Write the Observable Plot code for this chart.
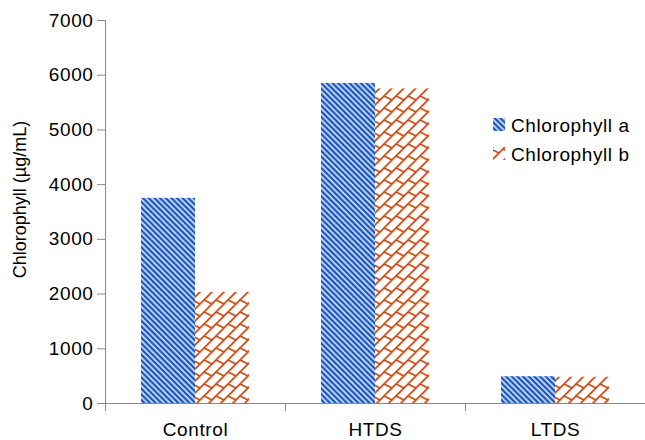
<!DOCTYPE html>
<html><head><meta charset="utf-8">
<script src="https://cdn.jsdelivr.net/npm/d3@7"></script>
<script src="https://cdn.jsdelivr.net/npm/@observablehq/plot@0.6"></script>
<style>
body{margin:0;background:#fff}
#chart{position:relative;width:645px;height:440px}
</style>
</head><body><div id="chart"></div>
<script>
const categories = ["Control", "HTDS", "LTDS"];
const seriesNames = ["Chlorophyll a", "Chlorophyll b"];
const chlA = [3750, 5850, 490];
const chlB = [2030, 5750, 480];
const yTicks = [0, 1000, 2000, 3000, 4000, 5000, 6000, 7000];
const yLabel = "Chlorophyll (µg/mL)";

const data = categories.flatMap((c, i) => [
  {category: c, series: seriesNames[0], value: chlA[i]},
  {category: c, series: seriesNames[1], value: chlB[i]}
]);

const FONT = "'Liberation Sans', Arial, Helvetica, sans-serif";

const plot = Plot.plot({
  width: 645, height: 440,
  marginTop: 20, marginBottom: 37, marginLeft: 105, marginRight: 0,
  style: {fontFamily: FONT, fontSize: "19px", color: "#000", background: "#fff", overflow: "visible"},
  fx: {domain: categories, paddingInner: 0, paddingOuter: 0, label: null},
  x: {domain: seriesNames, paddingInner: 0, paddingOuter: 0.64, axis: null},
  y: {domain: [0, 7000], label: null},
  marks: [
    Plot.barY(data, {filter: d => d.series === seriesNames[0], fx: "category", x: "series", y: "value", fill: "url(#patA)"}),
    Plot.barY(data, {filter: d => d.series === seriesNames[1], fx: "category", x: "series", y: "value", fill: "url(#patB)"}),
    Plot.axisY({ticks: yTicks, tickSize: 8, tickPadding: 4, tickFormat: d => String(d), stroke: "#888", fill: "#000", fontSize: 19, label: null}),
    Plot.axisFx({anchor: "bottom", tickSize: 0, tickPadding: 19, fontSize: 19, fill: "#000", label: null})
  ]
});
document.getElementById("chart").appendChild(plot);

const svg = d3.select(plot);
svg.selectAll("text").style("font-size", "19px").style("letter-spacing", "0.6px");
const defs = svg.insert("defs", ":first-child");
const pa = defs.append("pattern").attr("id", "patA").attr("patternUnits", "userSpaceOnUse")
  .attr("width", 4).attr("height", 4).attr("patternTransform", "rotate(-45)");
pa.append("rect").attr("width", 4).attr("height", 4).attr("fill", "#d3e2f6");
pa.append("rect").attr("x", 0).attr("width", 2.3).attr("height", 4).attr("fill", "#1a56c0");

const pb = defs.append("pattern").attr("id", "patB").attr("patternUnits", "userSpaceOnUse")
  .attr("width", 12).attr("height", 12);
pb.append("rect").attr("width", 12).attr("height", 12).attr("fill", "#fff");
pb.append("path").attr("d", "M0,12L12,0M-2,2L2,-2M10,14L14,10M0,0L8,4")
  .attr("stroke", "#c8521d").attr("stroke-width", 1.8).attr("fill", "none");

const ys = plot.scale("y");
const fxs = plot.scale("fx");
const y = d3.scaleLinear(ys.domain, ys.range);
const fx = d3.scaleBand(fxs.domain, fxs.range).paddingInner(fxs.paddingInner || 0).paddingOuter(fxs.paddingOuter || 0).align(fxs.align ?? 0.5);
const left = fx(categories[0]);
const right = fx(categories[categories.length - 1]) + fx.bandwidth();
const ax = svg.append("g").attr("stroke", "#888").attr("stroke-width", 1);
ax.append("line").attr("x1", left + 0.5).attr("x2", left + 0.5).attr("y1", y(7000)).attr("y2", y(0));
ax.append("line").attr("x1", left).attr("x2", right).attr("y1", y(0) + 0.5).attr("y2", y(0) + 0.5);
categories.forEach(c => {
  const bx = fx(c);
  ax.append("line").attr("x1", bx + 0.5).attr("x2", bx + 0.5).attr("y1", y(0)).attr("y2", y(0) + 8);
});

svg.append("text").attr("transform", `translate(20,${(y(0) + y(7000)) / 2 - 12}) rotate(-90)`)
  .attr("text-anchor", "middle").attr("dy", "0.35em").attr("fill", "#000")
  .style("font-family", FONT).style("font-size", "18px").text(yLabel);

const leg = svg.append("g").style("font-family", FONT).style("font-size", "19px").attr("text-anchor", "start");
[["url(#patA)", 118, 0, 0], ["url(#patB)", 147, 2, -2]].forEach(([f, ty, ox, oy], i) => {
  const g = leg.append("g").attr("transform", `translate(${493 - ox},${ty - oy})`);
  g.append("rect").attr("x", ox).attr("y", oy).attr("width", 12).attr("height", 13).attr("fill", f);
  leg.append("text").attr("x", 511).attr("y", ty + 7).attr("dy", "0.35em").attr("fill", "#000")
    .attr("text-anchor", "start").style("letter-spacing", "0.6px").text(seriesNames[i]);
});
</script>
</body></html>
